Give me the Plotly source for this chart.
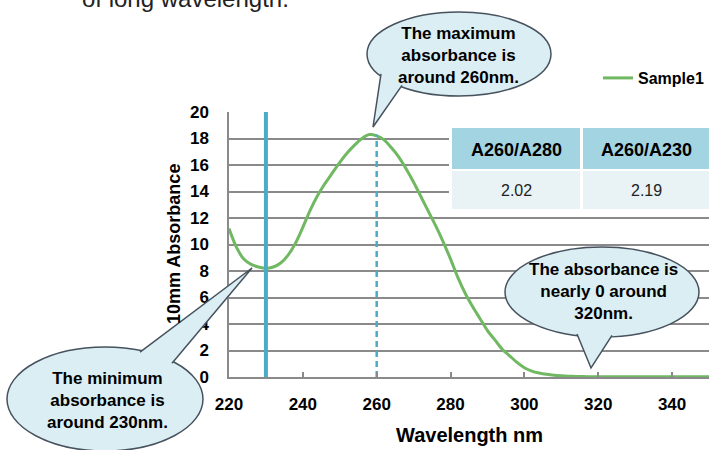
import plotly.graph_objects as go

# ---- data ----
wavelength = [220, 222, 224, 226, 228, 230, 232, 234, 236, 238, 240, 242, 244, 246, 248,
              250, 252, 254, 256, 258, 260, 262, 264, 266, 268, 270, 272, 274, 276, 278,
              280, 282, 284, 286, 288, 290, 292, 294, 296, 298, 300, 302, 304, 306, 308,
              310, 312, 314, 316, 318, 320, 325, 330, 335, 340, 345, 350]
absorbance = [11.2, 9.8, 8.9, 8.5, 8.3, 8.2, 8.3, 8.6, 9.2, 10.1, 11.3, 12.6, 13.7, 14.6, 15.4,
              16.2, 16.9, 17.5, 18.0, 18.3, 18.2, 17.9, 17.3, 16.6, 15.7, 14.7, 13.6, 12.5, 11.4, 10.2,
              8.9, 7.5, 6.3, 5.3, 4.4, 3.5, 2.8, 2.1, 1.6, 1.1, 0.7, 0.45, 0.3, 0.2, 0.13,
              0.09, 0.06, 0.04, 0.03, 0.02, 0.02, 0.02, 0.02, 0.02, 0.02, 0.02, 0.02]
series_name = "Sample1"
min_wavelength = 230
max_wavelength = 260
max_absorbance = 18.3
x_ticks = [220, 240, 260, 280, 300, 320, 340]
y_ticks = [0, 2, 4, 6, 8, 10, 12, 14, 16, 18, 20]
table_headers = ["A260/A280", "A260/A230"]
table_values = ["2.02", "2.19"]
bubble_max_text = "The maximum<br>absorbance is<br>around 260nm."
bubble_min_text = "The minimum<br>absorbance is<br>around 230nm."
bubble_zero_text = "The absorbance is<br>nearly 0 around<br>320nm."
top_text = "of long wavelength."

# ---- layout geometry (pixels) ----
W, H = 709, 450
L, R, T, B = 229, 709, 112, 377


def px(x):
    return (x - L) / (R - L)


def py(y):
    return (B - y) / (B - T)


FONT = "Liberation Sans, Arial, sans-serif"
GREEN = "#70b862"
BLUE = "#4bacc6"
GRID = "#8a8a8a"
BUB_FILL = "#dbeef3"
BUB_LINE = "#46525e"

fig = go.Figure()
fig.add_trace(go.Scatter(x=wavelength, y=absorbance, mode="lines", name=series_name,
                         line=dict(color=GREEN, width=3, shape="spline", smoothing=0.8),
                         showlegend=True))
fig.add_trace(go.Scatter(x=[min_wavelength, min_wavelength], y=[0, 20], mode="lines",
                         line=dict(color=BLUE, width=4), showlegend=False, hoverinfo="skip"))
fig.add_trace(go.Scatter(x=[max_wavelength, max_wavelength], y=[0, max_absorbance], mode="lines",
                         line=dict(color=BLUE, width=2.5, dash="6px,4px"), showlegend=False,
                         hoverinfo="skip"))

shapes = []
annotations = []

# table
shapes.append(dict(type="rect", xref="paper", yref="paper", x0=px(449), x1=px(709),
                   y0=py(211), y1=py(125), fillcolor="white", line=dict(width=0), layer="above"))
cols = [(452, 580), (583, 709)]
for (x0, x1), head, val in zip(cols, table_headers, table_values):
    shapes.append(dict(type="rect", xref="paper", yref="paper", x0=px(x0), x1=px(x1),
                       y0=py(169), y1=py(128), fillcolor="#a2d4e1", line=dict(width=0), layer="above"))
    shapes.append(dict(type="rect", xref="paper", yref="paper", x0=px(x0), x1=px(x1),
                       y0=py(209), y1=py(171), fillcolor="#e9f3f6", line=dict(width=0), layer="above"))
    annotations.append(dict(xref="paper", yref="paper", x=px((x0 + x1) / 2), y=py(150),
                            text=head, showarrow=False, xanchor="center", yanchor="middle",
                            font=dict(family=FONT, size=18, color="black", weight="bold")))
    annotations.append(dict(xref="paper", yref="paper", x=px((x0 + x1) / 2), y=py(190),
                            text=val, showarrow=False, xanchor="center", yanchor="middle",
                            font=dict(family=FONT, size=16, color="#222222")))


def ell_y(cx, cy, rx, ry, x, lower, k=0.97):
    dx = (x - cx) / (rx * k)
    dy = ry * k * max(0.0, 1 - dx * dx) ** 0.5
    return cy + dy if lower else cy - dy


def bubble(cx, cy, rx, ry, bx1, bx2, tip, lower, text, tx, ty):
    shapes.append(dict(type="circle", xref="paper", yref="paper",
                       x0=px(cx - rx), x1=px(cx + rx), y0=py(cy + ry), y1=py(cy - ry),
                       fillcolor=BUB_FILL, line=dict(color=BUB_LINE, width=1.5), layer="above"))
    b1 = (bx1, ell_y(cx, cy, rx, ry, bx1, lower))
    b2 = (bx2, ell_y(cx, cy, rx, ry, bx2, lower))
    path = "M {} {} L {} {} L {} {}".format(px(b1[0]), py(b1[1]), px(tip[0]), py(tip[1]),
                                            px(b2[0]), py(b2[1]))
    shapes.append(dict(type="path", xref="paper", yref="paper", path=path,
                       fillcolor=BUB_FILL, line=dict(color=BUB_LINE, width=1.5), layer="above"))
    annotations.append(dict(xref="paper", yref="paper", x=px(tx), y=py(ty), text=text,
                            showarrow=False, xanchor="center", yanchor="middle", align="center",
                            font=dict(family=FONT, size=17, color="black", weight="bold")))


bubble(459, 54, 92, 42, 381, 402, (373, 127), True, bubble_max_text, 458, 55)
bubble(105, 399, 98, 52, 140, 172, (252, 268), False, bubble_min_text, 107, 400)
bubble(602, 292, 97, 45, 577, 612, (591, 368), True, bubble_zero_text, 603, 291)

# axis titles and top text
annotations.append(dict(xref="paper", yref="paper", x=px(469), y=py(435), text="Wavelength nm",
                        showarrow=False, xanchor="center", yanchor="middle",
                        font=dict(family=FONT, size=20, color="black", weight="bold")))
annotations.append(dict(xref="paper", yref="paper", x=px(174), y=py(244), text="10mm Absorbance",
                        showarrow=False, xanchor="center", yanchor="middle", textangle=-90,
                        font=dict(family=FONT, size=18, color="black", weight="bold")))
annotations.append(dict(xref="paper", yref="paper", x=px(80), y=py(14), text=top_text,
                        showarrow=False, xanchor="left", yanchor="bottom",
                        font=dict(family="Liberation Sans, Arial, sans-serif", size=24,
                                  color="#222222")))

fig.update_layout(
    width=W, height=H,
    margin=dict(l=L, r=W - R, t=T, b=H - B, pad=0),
    paper_bgcolor="white", plot_bgcolor="white",
    shapes=shapes, annotations=annotations,
    legend=dict(x=1.0, xanchor="right", y=py(78), yanchor="middle", bgcolor="rgba(0,0,0,0)",
                font=dict(family=FONT, size=16, color="black", weight="bold"),
                itemwidth=30, borderwidth=0),
    xaxis=dict(range=[220, 350], tickvals=x_ticks, ticktext=[str(v) for v in x_ticks],
               showgrid=False, zeroline=False, showline=True, linecolor=GRID, linewidth=1.5,
               ticks="inside", ticklen=5, tickcolor=GRID, tickwidth=1.5,
               ticklabelstandoff=11,
               tickfont=dict(family=FONT, size=17, color="black", weight="bold")),
    yaxis=dict(range=[0, 20], tickvals=y_ticks, ticktext=[str(v) for v in y_ticks],
               showgrid=True, gridcolor=GRID, gridwidth=1.5, zeroline=False,
               showline=True, linecolor=GRID, linewidth=1.5, ticks="",
               ticklabelstandoff=15,
               tickfont=dict(family=FONT, size=17, color="black", weight="bold")),
)

fig.write_html("out.html")
